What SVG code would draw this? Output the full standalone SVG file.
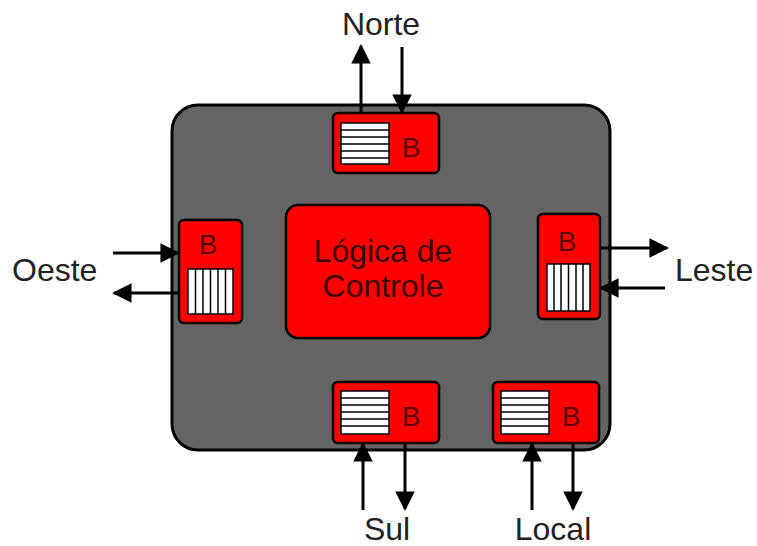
<svg xmlns="http://www.w3.org/2000/svg" width="757" height="546" viewBox="0 0 757 546">
<defs>
<style>
.lbl{font-family:"Liberation Sans",Arial,sans-serif;font-size:32px;fill:#222;}
.b{font-family:"Liberation Sans",Arial,sans-serif;font-size:28px;fill:#5a0000;text-anchor:middle;}
.ctl{font-family:"Liberation Sans",Arial,sans-serif;font-size:32px;fill:#3c0000;text-anchor:middle;}
.buf{fill:#ff0000;stroke:#000;stroke-width:2.5;}
.fifo{fill:#fff;stroke:#000;stroke-width:1.5;}
.ln{stroke:#000;stroke-width:1.5;}
.ar{stroke:#000;stroke-width:3;fill:none;marker-end:url(#ah);}
</style>
<marker id="ah" viewBox="0 0 10 10" refX="9" refY="5" markerWidth="6.5" markerHeight="6.5" orient="auto" markerUnits="strokeWidth">
<path d="M0,0 L10,5 L0,10 z" fill="#000"/>
</marker>
</defs>
<rect width="757" height="546" fill="#fff"/>
<g id="router">
<rect x="172" y="105" width="438" height="345" rx="26" fill="#646464" stroke="#000" stroke-width="3"/>
</g>
<g id="control">
<rect x="286" y="205" width="204" height="133" rx="12" fill="#ff0000" stroke="#000" stroke-width="2.5"/>
<text class="ctl" x="383" y="262">Lógica de</text>
<text class="ctl" x="383" y="297">Controle</text>
</g>
<g id="norte">
<rect class="buf" x="333" y="113" width="106" height="60" rx="5"/>
<rect class="fifo" x="341" y="123" width="48" height="41"/>
<path class="ln" d="M341,130H389M341,137H389M341,144H389M341,151H389M341,158H389"/>
<text class="b" x="411" y="157">B</text>
</g>
<g id="oeste">
<rect class="buf" x="179" y="220" width="63" height="103" rx="5"/>
<rect class="fifo" x="188" y="269" width="45" height="45"/>
<path class="ln" d="M195.5,269V314M203,269V314M210.5,269V314M218,269V314M225.5,269V314"/>
<text class="b" x="208" y="254">B</text>
</g>
<g id="leste">
<rect class="buf" x="538" y="214" width="62" height="105" rx="5"/>
<rect class="fifo" x="547" y="264" width="43" height="47"/>
<path class="ln" d="M554,264V311M561,264V311M568.5,264V311M576,264V311M583,264V311"/>
<text class="b" x="567" y="251">B</text>
</g>
<g id="sul">
<rect class="buf" x="333" y="382" width="106" height="61" rx="5"/>
<rect class="fifo" x="341" y="391" width="48" height="43"/>
<path class="ln" d="M341,398H389M341,405H389M341,412H389M341,419H389M341,426H389"/>
<text class="b" x="411" y="426">B</text>
</g>
<g id="local">
<rect class="buf" x="493" y="382" width="106" height="61" rx="5"/>
<rect class="fifo" x="501" y="391" width="48" height="43"/>
<path class="ln" d="M501,398H549M501,405H549M501,412H549M501,419H549M501,426H549"/>
<text class="b" x="571" y="426">B</text>
</g>
<g id="connectors">
<line class="ar" x1="361" y1="113" x2="361" y2="46"/>
<line class="ar" x1="402" y1="47" x2="402" y2="112"/>
<line class="ar" x1="113" y1="253" x2="178" y2="253"/>
<line class="ar" x1="179" y1="293" x2="114" y2="293"/>
<line class="ar" x1="600" y1="248" x2="667" y2="248"/>
<line class="ar" x1="665" y1="288" x2="601" y2="288"/>
<line class="ar" x1="363" y1="510" x2="363" y2="444"/>
<line class="ar" x1="405" y1="443" x2="405" y2="509"/>
<line class="ar" x1="532" y1="510" x2="532" y2="444"/>
<line class="ar" x1="573" y1="443" x2="573" y2="509"/>
</g>
<g id="labels">
<text class="lbl" x="381" y="35" text-anchor="middle">Norte</text>
<text class="lbl" x="12" y="281">Oeste</text>
<text class="lbl" x="675" y="281">Leste</text>
<text class="lbl" x="387" y="540" text-anchor="middle">Sul</text>
<text class="lbl" x="553" y="540" text-anchor="middle">Local</text>
</g>
</svg>
